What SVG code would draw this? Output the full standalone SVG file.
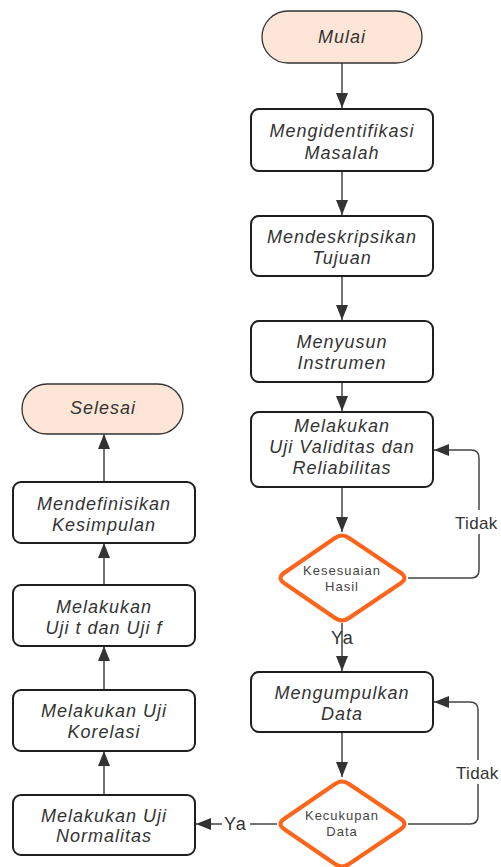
<svg xmlns="http://www.w3.org/2000/svg" width="501" height="867" viewBox="0 0 501 867">
<defs>
<style>
.box{fill:#fff;stroke:#1e1e1e;stroke-width:2}
.term{fill:#fde6d8;stroke:#333;stroke-width:1.3}
.dia{fill:#fff;stroke:#fe641a;stroke-width:4;stroke-linejoin:round}
.t{font-family:"Liberation Sans",Arial,sans-serif;font-style:italic;font-size:18px;letter-spacing:1px;fill:#333;text-anchor:middle}
.d{font-family:"Liberation Sans",Arial,sans-serif;font-size:13px;letter-spacing:1px;fill:#444;text-anchor:middle}
.l{font-family:"Liberation Sans",Arial,sans-serif;font-size:18px;letter-spacing:1.2px;fill:#333}
.tk{font-family:"Liberation Sans",Arial,sans-serif;font-size:17px;letter-spacing:0.3px;fill:#333}
.c{fill:none;stroke:#444;stroke-width:1.5}
</style>
<marker id="ah" viewBox="0 0 15 12" refX="15" refY="6" markerWidth="15" markerHeight="12" markerUnits="userSpaceOnUse" orient="auto">
<path d="M0,0 L15,6 L0,12 Z" fill="#333"/>
</marker>
</defs>
<rect width="501" height="867" fill="#fff"/>

<g id="connectors">
<path class="c" d="M342,63 V108" marker-end="url(#ah)"/>
<path class="c" d="M342,171 V215" marker-end="url(#ah)"/>
<path class="c" d="M342,276 V320" marker-end="url(#ah)"/>
<path class="c" d="M342,382 V411" marker-end="url(#ah)"/>
<path class="c" d="M342,487 V532" marker-end="url(#ah)"/>
<path class="c" d="M342,623 V671" marker-end="url(#ah)"/>
<path class="c" d="M342,732 V777" marker-end="url(#ah)"/>
<path class="c" d="M408,578 H471 Q479,578 479,570 V458 Q479,450 471,450 H434" marker-end="url(#ah)"/>
<path class="c" d="M408,824 H470 Q478,824 478,816 V710 Q478,702 470,702 H434" marker-end="url(#ah)"/>
<path class="c" d="M277,824 H196" marker-end="url(#ah)"/>
<path class="c" d="M104,795 V751" marker-end="url(#ah)"/>
<path class="c" d="M104,690 V646" marker-end="url(#ah)"/>
<path class="c" d="M104,585 V543" marker-end="url(#ah)"/>
<path class="c" d="M104,482 V434" marker-end="url(#ah)"/>
<rect x="452" y="510" width="49" height="24" fill="#fff"/>
<text class="tk" x="455" y="529">Tidak</text>
<rect x="453" y="760" width="48" height="24" fill="#fff"/>
<text class="tk" x="456" y="779">Tidak</text>
<text class="l" x="331" y="644">Ya</text>
<rect x="222" y="813" width="28" height="21" fill="#fff"/>
<text class="l" x="224" y="830">Ya</text>
</g>

<g id="mulai">
<rect class="term" x="262" y="11" width="160" height="52" rx="26"/>
<text class="t" x="342" y="43">Mulai</text>
</g>
<g id="identifikasi">
<rect class="box" x="251" y="109" width="182" height="62" rx="8"/>
<text class="t" x="342" y="137">Mengidentifikasi</text>
<text class="t" x="342" y="159">Masalah</text>
</g>
<g id="tujuan">
<rect class="box" x="251" y="216" width="182" height="60" rx="8"/>
<text class="t" x="342" y="243">Mendeskripsikan</text>
<text class="t" x="342" y="264">Tujuan</text>
</g>
<g id="instrumen">
<rect class="box" x="251" y="321" width="182" height="61" rx="8"/>
<text class="t" x="342" y="348">Menyusun</text>
<text class="t" x="342" y="369">Instrumen</text>
</g>
<g id="validitas">
<rect class="box" x="251" y="412" width="182" height="75" rx="8"/>
<text class="t" x="342" y="432">Melakukan</text>
<text class="t" x="342" y="453">Uji Validitas dan</text>
<text class="t" x="342" y="474">Reliabilitas</text>
</g>
<g id="kesesuaian">
<path class="dia" d="M335,538 Q342,533 349,538 L401,573 Q408,578 401,583 L349,618 Q342,623 335,618 L284,583 Q277,578 284,573 Z"/>
<text class="d" x="342" y="575">Kesesuaian</text>
<text class="d" x="342" y="591">Hasil</text>
</g>
<g id="mengumpulkan">
<rect class="box" x="251" y="672" width="182" height="60" rx="8"/>
<text class="t" x="342" y="699">Mengumpulkan</text>
<text class="t" x="342" y="720">Data</text>
</g>
<g id="kecukupan">
<path class="dia" d="M335,784 Q342,779 349,784 L401,819 Q408,824 401,829 L349,864 Q342,869 335,864 L284,829 Q277,824 284,819 Z"/>
<text class="d" x="342" y="820">Kecukupan</text>
<text class="d" x="342" y="836">Data</text>
</g>
<g id="selesai">
<rect class="term" x="22" y="384" width="161" height="50" rx="25"/>
<text class="t" x="103" y="414">Selesai</text>
</g>
<g id="kesimpulan">
<rect class="box" x="13" y="482" width="182" height="61" rx="8"/>
<text class="t" x="104" y="510">Mendefinisikan</text>
<text class="t" x="104" y="531">Kesimpulan</text>
</g>
<g id="ujitf">
<rect class="box" x="13" y="585" width="182" height="61" rx="8"/>
<text class="t" x="104" y="613">Melakukan</text>
<text class="t" x="104" y="634">Uji t dan Uji f</text>
</g>
<g id="korelasi">
<rect class="box" x="13" y="690" width="182" height="61" rx="8"/>
<text class="t" x="104" y="717">Melakukan Uji</text>
<text class="t" x="104" y="738">Korelasi</text>
</g>
<g id="normalitas">
<rect class="box" x="13" y="795" width="182" height="60" rx="8"/>
<text class="t" x="104" y="822">Melakukan Uji</text>
<text class="t" x="104" y="842">Normalitas</text>
</g>
</svg>
